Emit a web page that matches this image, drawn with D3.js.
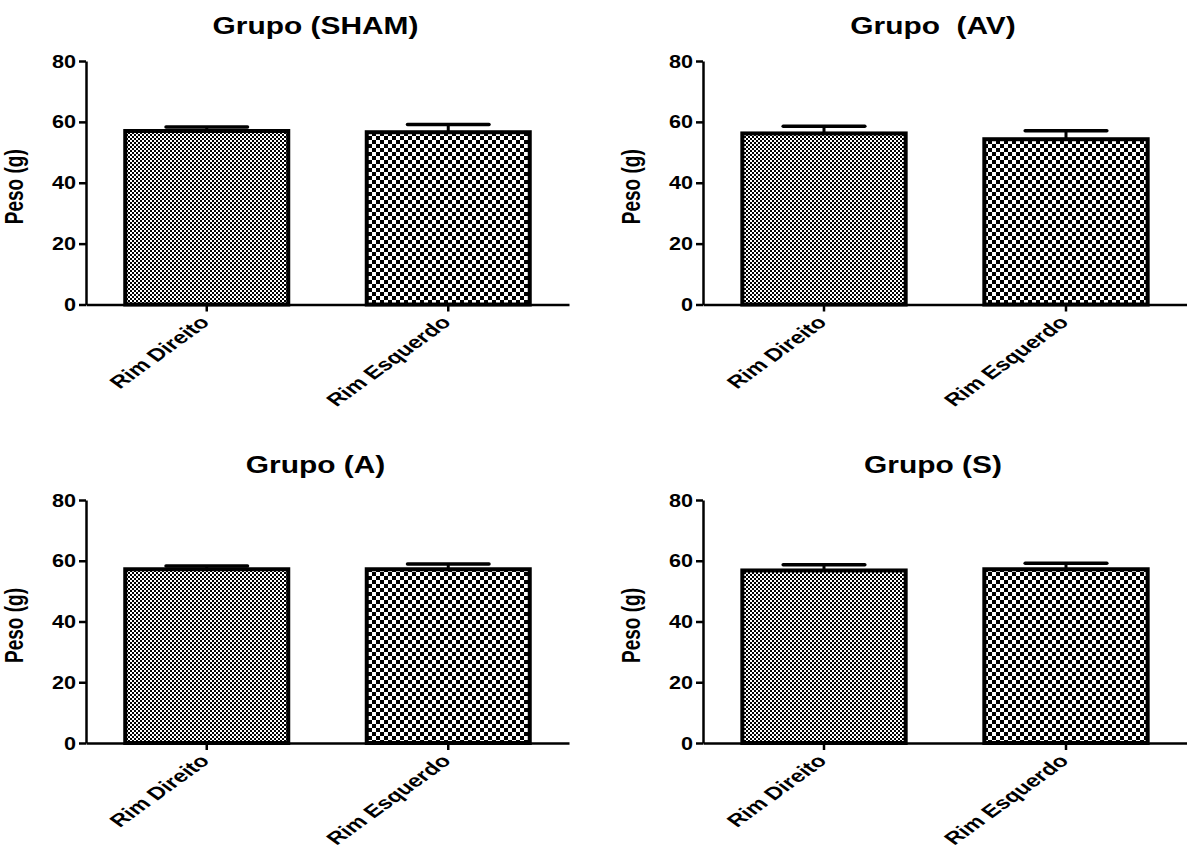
<!DOCTYPE html>
<html>
<head>
<meta charset="utf-8">
<script src="https://cdn.jsdelivr.net/npm/d3@7"></script>
<style>
  html, body { margin: 0; padding: 0; background: #fff; }
  svg text { font-family: "Liberation Sans", Arial, sans-serif; font-weight: bold; fill: #000; white-space: pre; }
</style>
</head>
<body>
<svg id="chart" width="1187" height="856"></svg>
<script>
// ---- data ----
const titles = ["Grupo (SHAM)", "Grupo  (AV)", "Grupo (A)", "Grupo (S)"];
const categories = ["Rim Direito", "Rim Esquerdo"];
const meanSHAM = [57.0, 56.6];
const semSHAM  = [1.3, 2.5];
const meanAV   = [56.2, 54.3];
const semAV    = [2.4, 2.8];
const meanA    = [57.2, 57.2];
const semA     = [1.1, 1.7];
const meanS    = [56.8, 57.2];
const semS     = [1.9, 2.0];
const yTicks   = [0, 20, 40, 60, 80];
const yLabel   = "Peso (g)";

const panelsData = [
  { title: titles[0], mean: meanSHAM, sem: semSHAM },
  { title: titles[1], mean: meanAV,   sem: semAV },
  { title: titles[2], mean: meanA,    sem: semA },
  { title: titles[3], mean: meanS,    sem: semS }
];

// ---- layout ----
const SX = 1.38; // horizontal stretch of the original picture's text
const layout = [
  { x0: 86,  x1: 569,  yTop: 61,  yBot: 304.5, titleY: 34 },
  { x0: 703, x1: 1187, yTop: 61,  yBot: 304.5, titleY: 34 },
  { x0: 86,  x1: 569,  yTop: 500, yBot: 743,   titleY: 473 },
  { x0: 703, x1: 1187, yTop: 500, yBot: 743,   titleY: 473 }
];

const svg = d3.select("#chart");
const defs = svg.append("defs");

function checker(id, w, h) {
  const p = defs.append("pattern").attr("id", id)
    .attr("patternUnits", "userSpaceOnUse")
    .attr("width", 2 * w).attr("height", 2 * h);
  p.append("rect").attr("width", 2 * w).attr("height", 2 * h).attr("fill", "#fff");
  p.append("rect").attr("x", 0).attr("y", 0).attr("width", w).attr("height", h).attr("fill", "#000");
  p.append("rect").attr("x", w).attr("y", h).attr("width", w).attr("height", h).attr("fill", "#000");
}
checker("fine", 2, 2);
checker("coarse", 4, 4);
const fills = ["url(#fine)", "url(#coarse)"];

function sText(parent, x, y, txt, size, anchor, rot, sx) {
  const g = parent.append("g").attr("transform", `translate(${x},${y}) scale(${sx || SX},1)`);
  const t = g.append("text").text(txt)
    .attr("font-size", size)
    .attr("text-anchor", anchor || "middle");
  if (rot) t.attr("transform", `rotate(${rot})`);
  return t;
}

panelsData.forEach((pd, i) => {
  const L = layout[i];
  const g = svg.append("g");
  const x = d3.scaleBand().domain(categories).range([L.x0, L.x1])
    .paddingInner(0.325).paddingOuter(0.1625);
  const y = d3.scaleLinear().domain([0, 80]).range([L.yBot, L.yTop]);

  // bars
  g.selectAll("rect.bar").data(categories).join("rect")
    .attr("class", "bar")
    .attr("x", d => x(d))
    .attr("y", (d, k) => y(pd.mean[k]))
    .attr("width", x.bandwidth())
    .attr("height", (d, k) => y(0) - y(pd.mean[k]))
    .attr("fill", (d, k) => fills[k])
    .attr("stroke", "#000")
    .attr("stroke-width", 4);

  // error bars (upper only)
  const capW = x.bandwidth() * 0.5;
  categories.forEach((c, k) => {
    const cx = x(c) + x.bandwidth() / 2;
    const top = y(pd.mean[k] + pd.sem[k]);
    g.append("line").attr("x1", cx).attr("x2", cx)
      .attr("y1", y(pd.mean[k])).attr("y2", top)
      .attr("stroke", "#000").attr("stroke-width", 3);
    g.append("line").attr("x1", cx - capW / 2).attr("x2", cx + capW / 2)
      .attr("y1", top).attr("y2", top)
      .attr("stroke", "#000").attr("stroke-width", 3.5).attr("stroke-linecap", "round");
  });

  // y axis
  const yAx = g.append("g").attr("transform", `translate(${L.x0},0)`)
    .call(d3.axisLeft(y).tickValues(yTicks).tickSize(7).tickSizeOuter(0).tickFormat(d3.format("d")));
  yAx.select(".domain").attr("stroke-width", 2.5);
  yAx.selectAll(".tick line").attr("stroke-width", 2.5);
  yAx.selectAll(".tick text").remove();
  yTicks.forEach(v => sText(g, L.x0 - 10, y(v) + 6.5, String(v), 18, "end", 0, 1.2));

  // x axis
  const xAx = g.append("g").attr("transform", `translate(0,${L.yBot})`)
    .call(d3.axisBottom(x).tickSize(7).tickSizeOuter(0));
  xAx.select(".domain").attr("stroke-width", 2.5);
  xAx.selectAll(".tick line").attr("stroke-width", 2.5);
  xAx.selectAll(".tick text").remove();
  categories.forEach(c => {
    const cx = x(c) + x.bandwidth() / 2;
    sText(g, cx + 4, L.yBot + 19, c, 17.5, "end", -45);
  });

  // y label
  sText(g, L.x0 - 63, (L.yTop + L.yBot) / 2 + 4, yLabel, 19, "middle", -90, 1.4);

  // title
  sText(g, (L.x0 + L.x1) / 2 - 12, L.titleY, pd.title, 23, "middle", 0, 1.3);
});
</script>
</body>
</html>
